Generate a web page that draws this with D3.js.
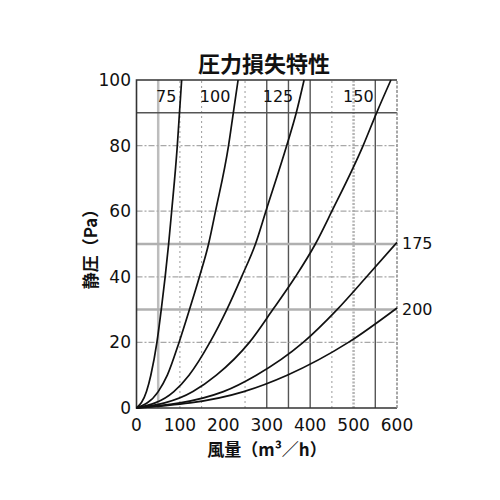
<!DOCTYPE html>
<html>
<head>
<meta charset="utf-8">
<script src="https://cdn.jsdelivr.net/npm/d3@7"></script>
<style>
  html, body { margin: 0; padding: 0; background: #fff; }
  svg { display: block; }
  text { fill: #111; }
</style>
</head>
<body>
<svg id="chart" width="500" height="500"></svg>
<script>
'use strict';

// readings taken off the scanned curves: [flow m3/h, static pressure Pa]
const curve75  = [[0, 0], [23, 5], [33, 10], [47, 20], [57, 30], [66, 40], [74, 50], [81, 60], [94, 80], [99, 90], [104, 100]];
const curve100 = [[0, 0], [50, 5], [71, 10], [98, 20], [122, 30], [145, 40], [166, 50], [182, 60], [212, 80], [223, 90], [234, 100]];
const curve125 = [[0, 0], [86, 5], [121, 10], [169, 20], [208, 30], [242, 40], [274, 50], [298, 60], [346, 80], [368, 90], [386, 100]];
const curve150 = [[0, 0], [130, 5], [184, 10], [260, 20], [314, 30], [366, 40], [412, 50], [450, 60], [522, 80], [553, 90], [586, 100]];
const curve175 = [[0, 0], [200, 5], [276, 10], [384, 20], [462, 30], [530, 40], [600, 50.5]];
const curve200 = [[0, 0], [247, 5], [347, 10], [488, 20], [600, 30.5]];

const sizes = ["75", "100", "125", "150", "175", "200"];
const curves = [curve75, curve100, curve125, curve150, curve175, curve200];

const xTicks = [0, 100, 200, 300, 400, 500, 600];
const yTicks = [0, 20, 40, 60, 80, 100];

// the scanned grid mixes several line styles
const gridXDark = [300, 350, 400, 550];
const gridXGray = [50];
const gridXDotted = [100, 150, 250, 450];
const gridXThickDotted = [500];
const gridYDark = [90];
const gridYGray = [50, 30];
const gridYDashed = [80, 60, 40, 20];

const title = "圧力損失特性";
const xLabel = "風量（m³／h）";
const yLabel = "静圧（Pa）";

let svg = d3.select("#chart");
let x = d3.scaleLinear().domain([0, 600]).range([136.5, 397]);
let y = d3.scaleLinear().domain([0, 100]).range([408, 80]);

const font = "'DejaVu Sans', sans-serif";
const cjk = "'Noto Sans CJK JP', 'Noto Sans', sans-serif";

function vLines(vals, stroke, width, dash) {
	svg.append("g").selectAll("line")
		.data(vals)
		.enter().append("line")
		.attr("x1", d => x(d)).attr("x2", d => x(d))
		.attr("y1", y(0)).attr("y2", y(100))
		.attr("stroke", stroke)
		.attr("stroke-width", width)
		.attr("stroke-dasharray", dash);
}

function hLines(vals, stroke, width, dash) {
	svg.append("g").selectAll("line")
		.data(vals)
		.enter().append("line")
		.attr("x1", x(0)).attr("x2", x(600))
		.attr("y1", d => y(d)).attr("y2", d => y(d))
		.attr("stroke", stroke)
		.attr("stroke-width", width)
		.attr("stroke-dasharray", dash);
}

vLines(gridXDotted, "#9a9a9a", 1, "2,3");
vLines(gridXThickDotted, "#b5b5b5", 2.5, "2,1.5");
vLines(gridXGray, "#bdbdbd", 2.5, null);
vLines(gridXDark, "#555", 1.4, null);
hLines(gridYDashed, "#a8a8a8", 1.3, "6,2,2,2");
hLines(gridYGray, "#b0b0b0", 2.5, null);
hLines(gridYDark, "#555", 1.4, null);

// frame: left, top and bottom dark, right edge lighter as in the scan
svg.append("path")
	.attr("d", "M" + x(600) + "," + y(100) + "H" + x(0) + "V" + y(0) + "H" + x(600))
	.attr("fill", "none")
	.attr("stroke", "#333")
	.attr("stroke-width", 1.6);
vLines([600], "#8a8a8a", 1.5, "3,1.5");

// curves
let line = d3.line()
	.x(d => x(d[0]))
	.y(d => y(d[1]))
	.curve(d3.curveMonotoneX);

svg.append("g").selectAll("path")
	.data(curves)
	.enter().append("path")
	.attr("d", line)
	.attr("fill", "none")
	.attr("stroke", "#111")
	.attr("stroke-width", 1.7);

// labels for the steep curves sit in the top band, left of the 90 Pa crossing
svg.append("g").selectAll("text")
	.data(curves.slice(0, 4))
	.enter().append("text")
	.attr("x", d => x(d.find(p => p[1] === 90)[0]) - 3)
	.attr("y", y(97) + 12)
	.attr("text-anchor", "end")
	.attr("font-family", font)
	.attr("font-size", 16)
	.text((d, i) => sizes[i]);

// labels for the flat curves at the right edge
svg.append("g").selectAll("text")
	.data(curves.slice(4))
	.enter().append("text")
	.attr("x", d => x(d[d.length - 1][0]) + 5)
	.attr("y", d => y(d[d.length - 1][1]) + 7)
	.attr("font-family", font)
	.attr("font-size", 16)
	.text((d, i) => sizes[i + 4]);

// tick labels
svg.append("g").selectAll("text")
	.data(xTicks)
	.enter().append("text")
	.attr("x", d => x(d))
	.attr("y", 431)
	.attr("text-anchor", "middle")
	.attr("font-family", font)
	.attr("font-size", 17)
	.text(d => d);

svg.append("g").selectAll("text")
	.data(yTicks)
	.enter().append("text")
	.attr("x", 131)
	.attr("y", d => y(d) + 6)
	.attr("text-anchor", "end")
	.attr("font-family", font)
	.attr("font-size", 17)
	.text(d => d);

svg.append("text")
	.attr("x", 264).attr("y", 72)
	.attr("text-anchor", "middle")
	.attr("font-family", cjk)
	.attr("font-weight", "bold")
	.attr("font-size", 22)
	.text(title);

svg.append("text")
	.attr("x", 267).attr("y", 456)
	.attr("text-anchor", "middle")
	.attr("font-family", cjk)
	.attr("font-weight", "bold")
	.attr("font-size", 17)
	.text(xLabel);

svg.append("text")
	.attr("transform", "translate(97,245) rotate(-90)")
	.attr("text-anchor", "middle")
	.attr("font-family", cjk)
	.attr("font-weight", "bold")
	.attr("font-size", 17)
	.text(yLabel);
</script>
</body>
</html>
